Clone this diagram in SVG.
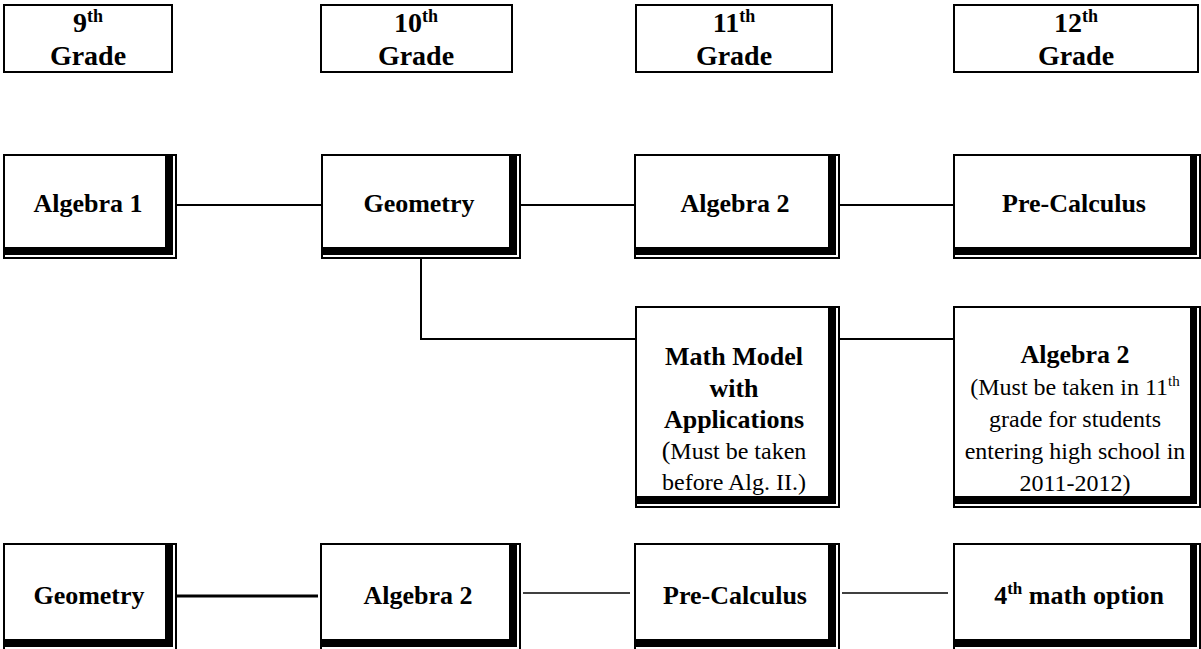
<svg xmlns="http://www.w3.org/2000/svg" width="1201" height="649" viewBox="0 0 1201 649">
<style>
  text { font-family: "Liberation Serif", "Times New Roman", serif; fill: #000; text-anchor: middle; }
  .h { font-size: 28px; font-weight: bold; }
  .sup { font-size: 18px; }
  .b { font-size: 26px; font-weight: bold; }
  .s { font-size: 24px; font-weight: normal; }
  .hdr { fill: #fff; stroke: #000; stroke-width: 2; }
  .bg { fill: #fff; }
  .edge { fill: none; stroke: #000; stroke-width: 2; }
  .band { fill: #000; }
  .conn line, .conn path { stroke: #000; stroke-width: 2; fill: none; }
</style>
<rect width="1201" height="649" fill="#fff"/>

<!-- Headers -->
<g id="h9"><rect class="hdr" x="4" y="5" width="168" height="67"/>
  <text class="h" x="88" y="32">9<tspan class="sup" dy="-10">th</tspan></text>
  <text class="h" x="88" y="65">Grade</text></g>
<g id="h10"><rect class="hdr" x="321" y="5" width="191" height="67"/>
  <text class="h" x="416" y="32">10<tspan class="sup" dy="-10">th</tspan></text>
  <text class="h" x="416" y="65">Grade</text></g>
<g id="h11"><rect class="hdr" x="636" y="5" width="196" height="67"/>
  <text class="h" x="734" y="32">11<tspan class="sup" dy="-10">th</tspan></text>
  <text class="h" x="734" y="65">Grade</text></g>
<g id="h12"><rect class="hdr" x="954" y="5" width="244" height="67"/>
  <text class="h" x="1076" y="32">12<tspan class="sup" dy="-10">th</tspan></text>
  <text class="h" x="1076" y="65">Grade</text></g>

<!-- Connectors -->
<g id="connectors" class="conn">
  <line x1="177" y1="205" x2="321" y2="205"/>
  <line x1="521" y1="205" x2="634" y2="205"/>
  <line x1="840" y1="205" x2="953" y2="205"/>
  <path d="M421 259 V339 H635"/>
  <line x1="840" y1="339" x2="953" y2="339"/>
  <line x1="177" y1="596" x2="318" y2="596" style="stroke-width:3"/>
  <line x1="523" y1="593" x2="630" y2="593" style="stroke-width:1.5"/>
  <line x1="842" y1="593" x2="948" y2="593" style="stroke-width:1.5"/>
</g>

<!-- Row 2 -->
<g id="r2a1">
  <rect class="bg" x="3" y="154" width="174" height="105"/>
  <path class="edge" d="M4 259 V155 H177"/>
  <rect class="band" x="165" y="154" width="8" height="101"/>
  <rect class="band" x="3" y="247" width="170" height="8"/>
  <path class="edge" d="M176 154 V258 H3"/>
  <text class="b" x="88" y="212">Algebra 1</text>
</g>
<g id="r2geo">
  <rect class="bg" x="321" y="154" width="200" height="105"/>
  <path class="edge" d="M322 259 V155 H521"/>
  <rect class="band" x="509" y="154" width="8" height="101"/>
  <rect class="band" x="321" y="247" width="196" height="8"/>
  <path class="edge" d="M520 154 V258 H321"/>
  <text class="b" x="419" y="212">Geometry</text>
</g>
<g id="r2a2">
  <rect class="bg" x="634" y="154" width="206" height="105"/>
  <path class="edge" d="M635 259 V155 H840"/>
  <rect class="band" x="828" y="154" width="8" height="101"/>
  <rect class="band" x="634" y="247" width="202" height="8"/>
  <path class="edge" d="M839 154 V258 H634"/>
  <text class="b" x="735" y="212">Algebra 2</text>
</g>
<g id="r2pc">
  <rect class="bg" x="953" y="154" width="248" height="105"/>
  <path class="edge" d="M954 259 V155 H1201"/>
  <rect class="band" x="1190" y="154" width="7" height="101"/>
  <rect class="band" x="953" y="247" width="244" height="8"/>
  <path class="edge" d="M1200 154 V258 H953"/>
  <text class="b" x="1074" y="212">Pre-Calculus</text>
</g>

<!-- Middle row -->
<g id="mm">
  <rect class="bg" x="635" y="306" width="205" height="202"/>
  <path class="edge" d="M636 508 V307 H840"/>
  <rect class="band" x="828" y="306" width="8" height="198"/>
  <rect class="band" x="635" y="496" width="201" height="8"/>
  <path class="edge" d="M839 306 V507 H635"/>
  <text class="b" x="734" y="365">Math Model</text>
  <text class="b" x="734" y="397">with</text>
  <text class="b" x="734" y="428">Applications</text>
  <text class="s" x="734" y="459"><tspan style="font-size:26px">(</tspan>Must be taken</text>
  <text class="s" x="734" y="490">before Alg. II.)</text>
</g>
<g id="a2r">
  <rect class="bg" x="953" y="306" width="248" height="202"/>
  <path class="edge" d="M954 508 V307 H1201"/>
  <rect class="band" x="1190" y="306" width="7" height="198"/>
  <rect class="band" x="953" y="496" width="244" height="8"/>
  <path class="edge" d="M1200 306 V507 H953"/>
  <text class="b" x="1075" y="363">Algebra 2</text>
  <text class="s" x="1075" y="395">(Must be taken in 11<tspan style="font-size:15px" dy="-9">th</tspan></text>
  <text class="s" x="1075" y="427">grade for students</text>
  <text class="s" x="1075" y="459">entering high school in</text>
  <text class="s" x="1075" y="491">2011-2012)</text>
</g>

<!-- Bottom row -->
<g id="b1">
  <rect class="bg" x="3" y="543" width="174" height="108"/>
  <path class="edge" d="M4 651 V544 H177"/>
  <rect class="band" x="165" y="543" width="8" height="104"/>
  <rect class="band" x="3" y="639" width="170" height="8"/>
  <path class="edge" d="M176 543 V650 H3"/>
  <text class="b" x="89" y="604">Geometry</text>
</g>
<g id="b2">
  <rect class="bg" x="320" y="543" width="201" height="108"/>
  <path class="edge" d="M321 651 V544 H521"/>
  <rect class="band" x="509" y="543" width="8" height="104"/>
  <rect class="band" x="320" y="639" width="197" height="8"/>
  <path class="edge" d="M520 543 V650 H320"/>
  <text class="b" x="418" y="604">Algebra 2</text>
</g>
<g id="b3">
  <rect class="bg" x="634" y="543" width="206" height="108"/>
  <path class="edge" d="M635 651 V544 H840"/>
  <rect class="band" x="828" y="543" width="8" height="104"/>
  <rect class="band" x="634" y="639" width="202" height="8"/>
  <path class="edge" d="M839 543 V650 H634"/>
  <text class="b" x="735" y="604">Pre-Calculus</text>
</g>
<g id="b4">
  <rect class="bg" x="953" y="543" width="248" height="108"/>
  <path class="edge" d="M954 651 V544 H1201"/>
  <rect class="band" x="1190" y="543" width="7" height="104"/>
  <rect class="band" x="953" y="639" width="244" height="8"/>
  <path class="edge" d="M1200 543 V650 H953"/>
  <text class="b" x="1079" y="604">4<tspan style="font-size:17px" dy="-10">th</tspan><tspan dy="10"> math option</tspan></text>
</g>
</svg>
